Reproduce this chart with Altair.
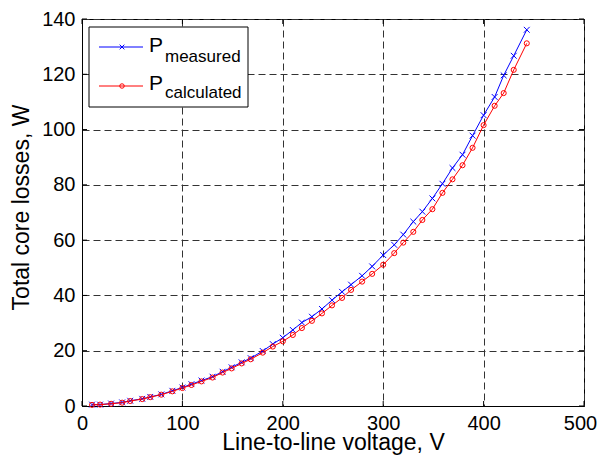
import altair as alt
import pandas as pd

voltage = [10, 18, 29, 40, 48, 60, 68, 79, 90, 100, 109, 119, 130, 140, 149, 159, 168, 180,
           190, 200, 210, 219, 229, 239, 249, 259, 268, 279, 289, 300, 311, 320, 330, 339,
           349, 359, 369, 379, 389, 400, 411, 420, 430, 443]
p_measured = [0.5, 0.5, 0.9, 1.3, 1.9, 2.6, 3.3, 4.2, 5.5, 6.7, 7.9, 9.2, 10.6, 12.4, 14.0,
              15.8, 17.3, 19.9, 22.4, 24.7, 27.5, 30.2, 32.3, 35.1, 38.3, 41.3, 43.9, 47.1,
              50.5, 54.6, 58.3, 62.0, 66.7, 70.3, 75.1, 80.4, 86.1, 90.9, 97.8, 105.2,
              111.8, 119.6, 126.7, 136.1]
p_calculated = [0.4, 0.5, 0.8, 1.2, 1.8, 2.5, 3.2, 4.1, 5.3, 6.5, 7.6, 8.9, 10.3, 12.1, 13.6,
                15.4, 16.9, 19.3, 21.5, 23.4, 25.7, 28.2, 30.8, 33.5, 36.4, 39.1, 42.0,
                45.0, 47.8, 51.1, 55.3, 59.1, 63.0, 67.3, 71.2, 77.1, 82.0, 87.1, 93.4,
                101.6, 108.6, 113.2, 121.6, 131.2]
x_ticks = [0, 100, 200, 300, 400, 500]
y_ticks = [0, 20, 40, 60, 80, 100, 120, 140]
legend_names = ["P", "P"]
legend_subs = ["measured", "calculated"]

W, H = 502, 387
FONT = "Liberation Sans"

df_m = pd.DataFrame({"V": voltage, "P": p_measured})
df_c = pd.DataFrame({"V": voltage, "P": p_calculated})
df_xt = pd.DataFrame({"V": x_ticks})
df_yt = pd.DataFrame({"P": y_ticks})

xscale = alt.Scale(domain=[0, 500], nice=False)
yscale = alt.Scale(domain=[0, 140], nice=False)

x_enc = alt.X("V:Q", scale=xscale, axis=alt.Axis(
    values=x_ticks, title="Line-to-line voltage, V", grid=True,
    gridDash=[7, 4], gridColor="#333333", gridWidth=1, ticks=False,
    labelPadding=7, labelFlush=False,
    labelOffset={"condition": {"test": "datum.value === 500", "value": -4}, "value": 0},
    titleY=43, titleBaseline="alphabetic"))
y_enc = alt.Y("P:Q", scale=yscale, axis=alt.Axis(
    values=y_ticks, title="Total core losses, W", grid=True,
    gridDash=[7, 4], gridColor="#333333", gridWidth=1, ticks=False,
    labelPadding=7, labelFlush=False, titleX=-54, titleY=188, titleBaseline="alphabetic"))

cross = "M-1,-1L1,1M-1,1L1,-1"

line_m = alt.Chart(df_m).mark_line(color="#0000ff", strokeWidth=1).encode(x=x_enc, y=y_enc)
pts_m = alt.Chart(df_m).mark_point(shape=cross, color="#0000ff", size=34, strokeWidth=1,
                                   opacity=1).encode(x="V:Q", y="P:Q")
line_c = alt.Chart(df_c).mark_line(color="#ff0000", strokeWidth=1).encode(x="V:Q", y="P:Q")
pts_c = alt.Chart(df_c).mark_point(shape="circle", color="#ff0000", size=26, strokeWidth=1,
                                   filled=False, opacity=1).encode(x="V:Q", y="P:Q")

# inward ticks on all four sides
tick_b = alt.Chart(df_xt).mark_rule(color="black").encode(
    x="V:Q", y=alt.value(H), y2=alt.value(H - 5))
tick_t = alt.Chart(df_xt).mark_rule(color="black").encode(
    x="V:Q", y=alt.value(0), y2=alt.value(5))
tick_l = alt.Chart(df_yt).mark_rule(color="black").encode(
    y="P:Q", x=alt.value(0), x2=alt.value(5))
tick_r = alt.Chart(df_yt).mark_rule(color="black").encode(
    y="P:Q", x=alt.value(W), x2=alt.value(W - 5))

# legend box (decoration)
leg_df = pd.DataFrame({"a": [0]})
leg_box = alt.Chart(leg_df).mark_rect(fill="white", stroke="black", strokeWidth=1).encode(
    x=alt.value(7), x2=alt.value(166), y=alt.value(8), y2=alt.value(88))
leg_line_m = alt.Chart(leg_df).mark_rule(color="#0000ff", strokeWidth=1).encode(
    x=alt.value(17), x2=alt.value(61), y=alt.value(28))
leg_pt_m = alt.Chart(leg_df).mark_point(shape=cross, color="#0000ff", size=22, strokeWidth=1,
                                        opacity=1).encode(x=alt.value(40), y=alt.value(28))
leg_line_c = alt.Chart(leg_df).mark_rule(color="#ff0000", strokeWidth=1).encode(
    x=alt.value(17), x2=alt.value(61), y=alt.value(67))
leg_pt_c = alt.Chart(leg_df).mark_point(shape="circle", color="#ff0000", size=20, strokeWidth=1,
                                        filled=False, opacity=1).encode(x=alt.value(40), y=alt.value(67))
leg_P_m = alt.Chart(leg_df).mark_text(text=legend_names[0], font=FONT, fontSize=21, align="left",
                                      baseline="alphabetic", color="black").encode(
    x=alt.value(67), y=alt.value(33))
leg_s_m = alt.Chart(leg_df).mark_text(text=legend_subs[0], font=FONT, fontSize=17, align="left",
                                      baseline="alphabetic", color="black").encode(
    x=alt.value(83), y=alt.value(43))
leg_P_c = alt.Chart(leg_df).mark_text(text=legend_names[1], font=FONT, fontSize=21, align="left",
                                      baseline="alphabetic", color="black").encode(
    x=alt.value(67), y=alt.value(71))
leg_s_c = alt.Chart(leg_df).mark_text(text=legend_subs[1], font=FONT, fontSize=17, align="left",
                                      baseline="alphabetic", color="black").encode(
    x=alt.value(83), y=alt.value(79))

chart = alt.layer(
    line_m, pts_m, line_c, pts_c, tick_b, tick_t, tick_l, tick_r,
    leg_box, leg_line_m, leg_pt_m, leg_line_c, leg_pt_c, leg_P_m, leg_s_m, leg_P_c, leg_s_c
).properties(
    width=W, height=H,
    autosize=alt.AutoSizeParams(type="none"),
    padding={"left": 74, "top": 11, "right": 13, "bottom": 52},
    background="white",
).configure_view(
    stroke="black", strokeWidth=1
).configure_axis(
    labelFont=FONT, labelFontSize=20, labelColor="black",
    titleFont=FONT, titleFontSize=23, titleFontWeight="normal", titleColor="black",
    domainColor="black", domainWidth=1,
)

chart.save("out.html", embed_options={"renderer": "svg", "actions": False})
